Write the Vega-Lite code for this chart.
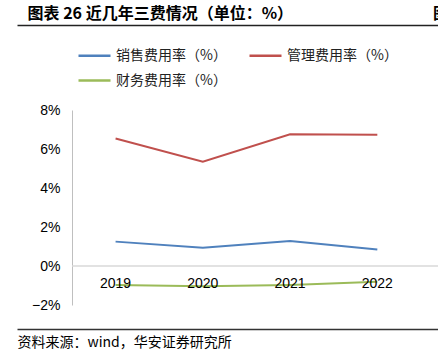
{
  "$schema": "https://vega.github.io/schema/vega-lite/v6.json",
  "width": 421,
  "height": 195,
  "autosize": {"type": "none"},
  "padding": {"left": 17, "top": 110, "right": 0, "bottom": 49},
  "background": "white",
  "config": {"view": {"stroke": null}, "font": "Noto Sans CJK SC", "axis": {"labelOverlap": false}},
  "title": {
    "text": "图",
    "anchor": "end",
    "frame": "group",
    "font": "Noto Sans CJK SC",
    "fontSize": 16,
    "fontWeight": "bold",
    "color": "#000",
    "offset": 0,
    "dx": 11,
    "dy": 17
  },
  "data": {
    "values": [
      {"year": "2019", "series": "销售费用率（%）", "value": 0.0125},
      {"year": "2020", "series": "销售费用率（%）", "value": 0.0094},
      {"year": "2021", "series": "销售费用率（%）", "value": 0.0128},
      {"year": "2022", "series": "销售费用率（%）", "value": 0.0085},
      {"year": "2019", "series": "管理费用率（%）", "value": 0.0654},
      {"year": "2020", "series": "管理费用率（%）", "value": 0.0535},
      {"year": "2021", "series": "管理费用率（%）", "value": 0.0675},
      {"year": "2022", "series": "管理费用率（%）", "value": 0.0673},
      {"year": "2019", "series": "财务费用率（%）", "value": -0.0097},
      {"year": "2020", "series": "财务费用率（%）", "value": -0.0104},
      {"year": "2021", "series": "财务费用率（%）", "value": -0.0097},
      {"year": "2022", "series": "财务费用率（%）", "value": -0.0081}
    ]
  },
  "layer": [
    {
      "data": {"values": [{"start": 0, "end": 1, "level": 0}]},
      "mark": {"type": "rule", "color": "#d9d9d9", "strokeWidth": 1.3},
      "encoding": {
        "x": {
          "field": "start",
          "type": "quantitative",
          "scale": {"domain": [-0.15027, 1], "nice": false, "zero": false},
          "axis": {
            "orient": "top",
            "offset": 85,
            "domain": true,
            "domainColor": "#222",
            "domainWidth": 1.5,
            "labels": false,
            "ticks": true,
            "tickSize": 0,
            "tickOpacity": 0,
            "grid": false,
            "title": "图表 26 近几年三费情况（单位：%）",
            "titleX": 10,
            "titleY": -12,
            "titleAlign": "left",
            "titleAnchor": null,
            "titleBaseline": "middle",
            "titleFont": "Noto Sans CJK SC",
            "titleFontSize": 16,
            "titleFontWeight": "bold",
            "titleColor": "#000"
          }
        },
        "x2": {"field": "end"},
        "y": {
          "field": "level",
          "type": "quantitative",
          "scale": {"domain": [-0.02, 0.08], "nice": false},
          "axis": {
            "values": [-0.02, 0, 0.02, 0.04, 0.06, 0.08],
            "format": ".0%",
            "offset": -55,
            "domainColor": "#bfbfbf",
            "domainWidth": 1,
            "ticks": false,
            "grid": false,
            "title": null,
            "labelFont": "Liberation Sans",
            "labelFontSize": 14,
            "labelColor": "#000",
            "labelPadding": 12,
            "labelOverlap": false,
            "labelBound": false,
            "labelFlush": false
          }
        }
      }
    },
    {
      "mark": {"type": "line", "strokeWidth": 2},
      "encoding": {
        "x": {
          "field": "year",
          "type": "ordinal",
          "scale": {"type": "point", "padding": 0.9125, "align": 0.619},
          "axis": {
            "orient": "bottom",
            "offset": 24,
            "domain": true,
            "domainColor": "#333",
            "domainWidth": 1.5,
            "labels": false,
            "ticks": true,
            "tickSize": 0,
            "tickOpacity": 0,
            "grid": false,
            "title": "资料来源：wind，华安证券研究所",
            "titleAnchor": "start",
            "titleAlign": "left",
            "titleBaseline": "top",
            "titleFont": "Noto Sans CJK SC",
            "titleFontSize": 14,
            "titleFontWeight": "normal",
            "titleColor": "#000",
            "titlePadding": 6
          }
        },
        "y": {
          "field": "value",
          "type": "quantitative",
          "scale": {"domain": [-0.02, 0.08], "nice": false},
          "axis": {
            "values": [-0.02, 0, 0.02, 0.04, 0.06, 0.08],
            "format": ".0%",
            "offset": -55,
            "domainColor": "#bfbfbf",
            "domainWidth": 1,
            "ticks": false,
            "grid": false,
            "title": null,
            "labelFont": "Liberation Sans",
            "labelFontSize": 14,
            "labelColor": "#000",
            "labelPadding": 12,
            "labelOverlap": false,
            "labelBound": false,
            "labelFlush": false
          }
        },
        "color": {
          "field": "series",
          "type": "nominal",
          "scale": {
            "domain": ["销售费用率（%）", "管理费用率（%）", "财务费用率（%）"],
            "range": ["#4F81BD", "#C0504D", "#9BBB59"]
          },
          "legend": {
            "orient": "none",
            "direction": "horizontal",
            "legendX": 60,
            "legendY": -72,
            "title": null,
            "columns": 2,
            "columnPadding": 17,
            "rowPadding": -3,
            "symbolType": "stroke",
            "symbolSize": 1024,
            "symbolStrokeWidth": 2.5,
            "labelFont": "Noto Sans CJK SC",
            "labelFontSize": 14,
            "labelColor": "#222",
            "labelOffset": 4
          }
        }
      }
    },
    {
      "data": {"values": [{"year": "2019"}, {"year": "2020"}, {"year": "2021"}, {"year": "2022"}]},
      "mark": {"type": "text", "font": "Liberation Sans", "fontSize": 14, "baseline": "middle", "dy": 18, "color": "#000"},
      "encoding": {
        "x": {
          "field": "year",
          "type": "ordinal",
          "scale": {"type": "point", "padding": 0.9125, "align": 0.619},
          "axis": null
        },
        "y": {
          "datum": 0,
          "type": "quantitative",
          "scale": {"domain": [-0.02, 0.08], "nice": false},
          "axis": {
            "values": [-0.02, 0, 0.02, 0.04, 0.06, 0.08],
            "format": ".0%",
            "offset": -55,
            "domainColor": "#bfbfbf",
            "domainWidth": 1,
            "ticks": false,
            "grid": false,
            "title": null,
            "labelFont": "Liberation Sans",
            "labelFontSize": 14,
            "labelColor": "#000",
            "labelPadding": 12,
            "labelOverlap": false,
            "labelBound": false,
            "labelFlush": false
          }
        },
        "text": {"field": "year"}
      }
    }
  ],
  "resolve": {"scale": {"x": "independent"}, "axis": {"x": "independent"}}
}
